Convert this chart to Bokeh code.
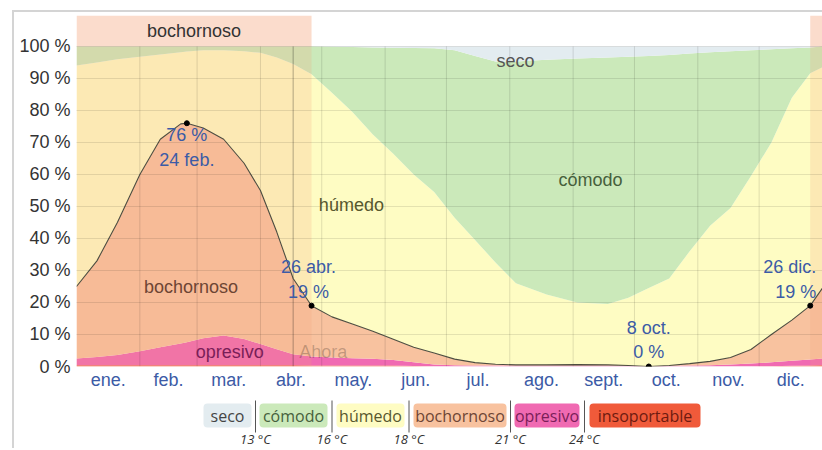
import numpy as np
from bokeh.plotting import figure
from bokeh.models import Range1d, FixedTicker, PrintfTickFormatter
from bokeh.layouts import column
from bokeh.embed import file_html
from bokeh.resources import INLINE
from bokeh.core.properties import value

# ---------------- data ----------------
month_labels = ["ene.", "feb.", "mar.", "abr.", "may.", "jun.", "jul.", "ago.",
                "sept.", "oct.", "nov.", "dic."]
month_days = [31, 28, 31, 30, 31, 30, 31, 31, 30, 31, 30, 31]

# day of year (0 = 1 ene.)
days = [0, 10, 20, 31, 41, 51, 54, 62, 72, 82, 90, 98, 106, 115, 125, 135, 145,
        155, 165, 175, 185, 195, 205, 215, 230, 245, 260, 270, 280, 290, 300,
        310, 320, 330, 340, 350, 359, 365]

# cumulative upper boundary (%) of each category, from the bottom up
insoportable_top = [0.4, 0.4, 0.4, 0.4, 0.4, 0.4, 0.4, 0.4, 0.4, 0.4, 0.4, 0.4,
                    0.4, 0.3, 0.3, 0.3, 0.3, 0.3, 0.15, 0.0, 0.0, 0.0, 0.0, 0.0,
                    0.0, 0.0, 0.0, 0.0, 0.0, 0.0, 0.0, 0.0, 0.0, 0.0, 0.1, 0.2,
                    0.3, 0.4]
opresivo_top = [2.5, 3.0, 3.6, 4.8, 6.0, 7.2, 7.6, 8.8, 9.7, 8.6, 7.0, 5.4, 3.8,
                3.1, 2.8, 2.6, 2.4, 2.0, 1.3, 0.6, 0.4, 0.3, 0.3, 0.3, 0.3, 0.3,
                0.3, 0.2, 0.0, 0.2, 0.3, 0.4, 0.6, 0.9, 1.3, 1.8, 2.2, 2.5]
bochornoso_top = [25, 33, 45, 60, 71, 75.8, 76, 74.5, 71, 63.5, 55, 42, 27.5,
                  19, 15.5, 13.3, 11, 8.5, 6, 4.2, 2.3, 1.2, 0.7, 0.5, 0.5, 0.6,
                  0.5, 0.3, 0, 0.3, 0.9, 1.6, 2.8, 5.3, 10, 14.5, 19, 24.5]
humedo_top = [94, 95, 96, 96.8, 97.5, 98.2, 98.4, 98.8, 98.8, 98.5, 98, 96.5,
              94.5, 91.3, 85.5, 79.5, 72.5, 66.5, 60, 54.5, 46.5, 39.5, 32.5,
              26, 22.5, 20, 19.5, 21.5, 24.5, 27.5, 36, 44, 49.5, 59.5, 70, 84,
              91.6, 93.5]
comodo_top = [100, 100, 100, 100, 100, 100, 100, 100, 100, 100, 100, 100, 100,
              100, 99.9, 99.8, 99.7, 99.6, 99.5, 99.4, 98.8, 97, 95.3, 95.3,
              95.8, 96.2, 96.5, 96.8, 97, 97.3, 97.8, 98.2, 98.5, 98.8, 99.1,
              99.4, 99.7, 100]
seco_top = [100] * len(days)

categories = ["seco", "cómodo", "húmedo", "bochornoso", "opresivo", "insoportable"]
thresholds = ["13 °C", "16 °C", "18 °C", "21 °C", "24 °C"]

muggy_season = [(0, 115), (359, 365)]     # highlighted "bochornoso" period
now_day = 106                              # "Ahora"
ann_days = [54, 115, 280, 359]
ann_texts = ["76 %\n24 feb.", "26 abr.\n19 %", "8 oct.\n0 %", "26 dic.\n19 %"]

# ---------------- styles ----------------
COL = {"seco": "#e3ecf0", "cómodo": "#cbe9ba", "húmedo": "#fefcc3",
       "bochornoso": "#f8c29f", "opresivo": "#f06ab2", "insoportable": "#f05a3a"}
TXT = {"seco": "#444444", "cómodo": "#46603c", "húmedo": "#57572e",
       "bochornoso": "#6e4534", "opresivo": "#7a1e58", "insoportable": "#6e1a10"}
FONT = "Liberation Sans"
LFONT = "Open Sans"
FS = "18px"
BLUE = "#3c5ba6"
YTOP = 109.66

MARGIN_L, MARGIN_T, BW = 12, 10, 2
ORIGIN_X = MARGIN_L + BW          # page x of the figures' left edge
BORDER_L = 62
W = 808
FRAME_L = ORIGIN_X + BORDER_L
FRAME_R = ORIGIN_X + W

p = figure(width=W, height=380, x_range=Range1d(0, 365), y_range=Range1d(0, YTOP),
           output_backend="svg", toolbar_location=None,
           min_border_left=BORDER_L, min_border_right=0, min_border_top=3,
           min_border_bottom=25)
p.outline_line_color = None
p.background_fill_color = "white"
p.border_fill_color = "white"

# stacked bands
layers = [
    ("insoportable", [0] * len(days), insoportable_top),
    ("opresivo", insoportable_top, opresivo_top),
    ("bochornoso", opresivo_top, bochornoso_top),
    ("húmedo", bochornoso_top, humedo_top),
    ("cómodo", humedo_top, comodo_top),
    ("seco", comodo_top, seco_top),
]
for name, lo, hi in layers:
    p.varea(x=days, y1=lo, y2=hi, fill_color=COL[name], fill_alpha=1)

# muggy season overlay + top band
for s, e in muggy_season:
    p.quad(left=s, right=e, bottom=0, top=100, fill_color="#f5a27a",
           fill_alpha=0.2, line_color=None)
    p.quad(left=s, right=e, bottom=100, top=YTOP, fill_color="#f5a27a",
           fill_alpha=0.38, line_color=None)

# month boundary lines
month_starts = np.cumsum([0] + month_days)
bounds = month_starts[1:-1]
p.segment(x0=bounds, y0=0, x1=bounds, y1=100, line_color="black",
          line_alpha=0.12, line_width=1)
# now line
p.segment(x0=[now_day], y0=[0], x1=[now_day], y1=[100], line_color="black",
          line_alpha=0.3, line_width=1)

# boundary of muggy-or-worse
p.line(days, bochornoso_top, line_color="#4d4d40", line_width=1.1)

idx = [days.index(d) for d in ann_days]
ann_x = [days[i] for i in idx]
ann_y = [bochornoso_top[i] for i in idx]
p.scatter(ann_x, ann_y, size=5, color="black")

# axes
month_mids = [float(month_starts[i] + month_days[i] / 2) for i in range(12)]
p.xaxis.ticker = FixedTicker(ticks=month_mids)
p.xaxis.major_label_overrides = {m: lab for m, lab in zip(month_mids, month_labels)}
p.yaxis.ticker = FixedTicker(ticks=list(range(0, 101, 10)))
p.yaxis.formatter = PrintfTickFormatter(format="%d %%")
for ax in (p.xaxis, p.yaxis):
    ax.axis_line_color = None
    ax.major_tick_line_color = None
    ax.minor_tick_line_color = None
    ax.major_tick_out = 0
    ax.major_tick_in = 0
    ax.minor_tick_out = 0
    ax.major_label_text_font = FONT
    ax.major_label_text_font_size = FS
p.xaxis.major_label_text_color = BLUE
p.yaxis.major_label_text_color = "#333333"
p.xaxis.major_label_standoff = 3
p.yaxis.major_label_standoff = 6
p.xgrid.visible = False
p.ygrid.grid_line_color = "black"
p.ygrid.grid_line_alpha = 0.1
p.ygrid.level = "guide"


def label(x, y, txt, color, align="center", baseline="middle", xo=0, yo=0,
          size=FS, alpha=1.0, font=FONT):
    r = p.text(x=[x], y=[y], text=[txt], text_color=color, text_align=align,
               text_baseline=baseline, x_offset=xo, y_offset=yo,
               text_font=value(font), text_font_size=size, text_alpha=alpha,
               text_line_height=1.22)
    r.level = "annotation"
    return r


# region labels
label(56, 24.9, "bochornoso", TXT["bochornoso"])
label(75, 4.4, "opresivo", TXT["opresivo"])
label(134.5, 50.5, "húmedo", TXT["húmedo"])
label(251.5, 58.3, "cómodo", TXT["cómodo"])
label(214.8, 95.6, "seco", "#555555")
label(now_day, 4.4, "Ahora", "#000000", align="left", xo=6, alpha=0.22)
s0, e0 = muggy_season[0]
label((s0 + e0) / 2, (100 + YTOP) / 2, "bochornoso", "#333333")

# annotations
label(ann_x[0], ann_y[0], ann_texts[0], BLUE, baseline="top", yo=2)
label(ann_x[1], ann_y[1], ann_texts[1], BLUE, baseline="bottom", xo=-3, yo=-4)
label(ann_x[2], ann_y[2], ann_texts[2], BLUE, baseline="bottom", yo=-4)
label(ann_x[3], ann_y[3], ann_texts[3], BLUE, align="right", baseline="bottom",
      xo=6, yo=-4)

# ---------------- legend strip (frame is aligned with the chart frame;
# its x range is expressed in page pixels) ----------------
LH = 56
leg = figure(width=W, height=LH, x_range=Range1d(FRAME_L, FRAME_R),
             y_range=Range1d(LH, 0), output_backend="svg",
             toolbar_location=None, min_border=0,
             min_border_left=BORDER_L, min_border_right=0)
leg.axis.visible = False
leg.grid.visible = False
leg.outline_line_color = None
leg.border_fill_color = "white"
leg.background_fill_color = "white"

box_x = [(203, 251), (259, 327), (336, 404), (413, 506), (514, 579), (589, 700)]
leg.quad(left=[b[0] for b in box_x], right=[b[1] for b in box_x],
         top=[11] * 6, bottom=[35] * 6,
         fill_color=[COL[c] for c in categories], line_color=None,
         border_radius=4)
leg.text(x=[(a + b) / 2 for a, b in box_x], y=[23] * 6, text=categories,
         text_color=[TXT[c] for c in categories], text_align="center",
         text_baseline="middle", text_font=value(LFONT), text_font_size="16px")
sep_x = [(box_x[i][1] + box_x[i + 1][0]) / 2 for i in range(5)]
leg.segment(x0=sep_x, y0=[8] * 5, x1=sep_x, y1=[40] * 5, line_color="#555555",
            line_width=1)
leg.text(x=sep_x, y=[46] * 5, text=thresholds, text_color="#333333",
         text_align="center", text_baseline="middle", text_font=value(LFONT),
         text_font_size="13px", text_font_style="italic")

layout = column(p, leg, margin=(MARGIN_T, 0, 0, MARGIN_L),
                styles={"border-left": f"{BW}px solid #d4d4d4",
                        "border-top": f"{BW}px solid #d4d4d4"})

open("out.html", "w").write(file_html(layout, INLINE))
